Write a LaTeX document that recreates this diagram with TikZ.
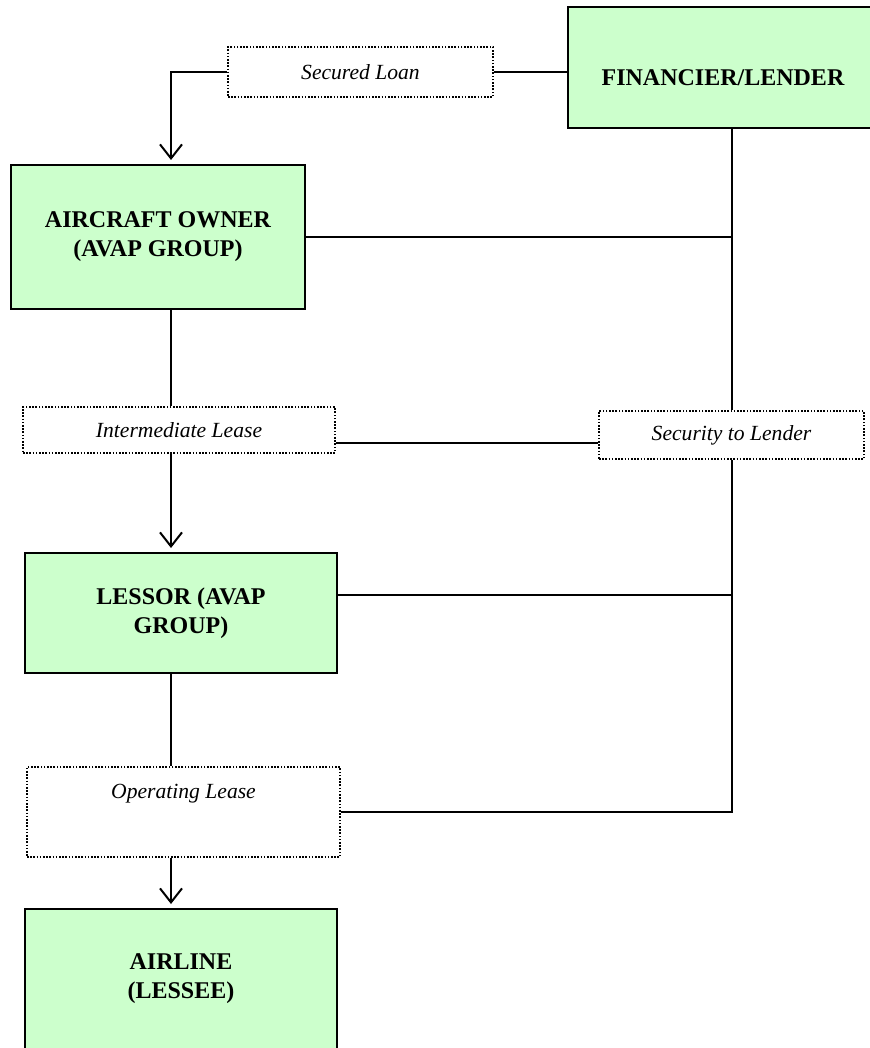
\documentclass[tikz,border=0pt]{standalone}
\usepackage{fontspec}
\setmainfont{Liberation Serif}
\usetikzlibrary{arrows.meta, positioning}
\definecolor{my_green}{RGB}{204, 255, 204}
\tikzset {
  party/.style = {draw, line width=1pt, fill=my_green, rectangle, align=center, inner sep=2pt, font=\bfseries\fontsize{12}{14.5}\selectfont},
  deal/.style = {draw, dash pattern=on 0.8pt off 0.8pt, line width=0.8pt, fill=white, rectangle, inner sep=2pt, font=\itshape\fontsize{10.8}{13}\selectfont},
  line/.style = {line width=1pt, color=black},
  flow/.style = {-{Straight Barb[length=7pt, width=11pt]}, line width=1pt, color=black, shorten >=2pt},
}

\begin{document}
\begin{tikzpicture}[x=0.5pt, y=-0.5pt]
    \useasboundingbox (0,0) rectangle (869,1048);

    \node[party, minimum width=155pt, minimum height=60.5pt, text height=18pt, text depth=0pt] (lender) at (723,67.5) {FINANCIER/LENDER};
    \node[deal, minimum width=132.5pt, minimum height=25pt] (loan) at (360.5,72) {Secured Loan};
    \node[party, minimum width=147pt, minimum height=72pt] (owner) at (158,237) {AIRCRAFT OWNER\\(AVAP GROUP)};
    \node[deal, minimum width=156pt, minimum height=23pt] (interlease) at (179,430) {Intermediate Lease};
    \node[deal, minimum width=132.5pt, minimum height=24pt] (security) at (731.5,435) {Security to Lender};
    \node[party, minimum width=156pt, minimum height=60pt] (lessor) at (181,613) {LESSOR (AVAP\\GROUP)};
    \node[deal, minimum width=156.5pt, minimum height=45pt, text height=8pt, text depth=22pt] (oplease) at (183.5,812) {Operating Lease};
    \node[party, minimum width=156pt, minimum height=70pt] (airline) at (181,979) {AIRLINE\\(LESSEE)};

    \coordinate (spine) at (171,0);

    % chain down the left side
    \draw[flow] (loan.west) -| (owner.north -| spine);
    \draw[line] (loan.east) -- (loan.east -| lender.west);
    \draw[line] (owner.south -| spine) -- (interlease.north -| spine);
    \draw[flow] (interlease.south -| spine) -- (lessor.north -| spine);
    \draw[line] (lessor.south -| spine) -- (oplease.north -| spine);
    \draw[flow] (oplease.south -| spine) -- (airline.north -| spine);

    % security lines on the right
    \draw[line] (lender.south -| security.north) -- (security.north);
    \draw[line] (security.south) -- (security.south |- oplease.east) -- (oplease.east);
    \draw[line] (owner.east) -- (owner.east -| security.north);
    \draw[line] ([yshift=9pt]lessor.east) coordinate (lessorout) -- (lessorout -| security.south);
    \draw[line] ([yshift=-6.5pt]interlease.east) coordinate (leaseout) -- (leaseout -| security.west);

\end{tikzpicture}
\end{document}
